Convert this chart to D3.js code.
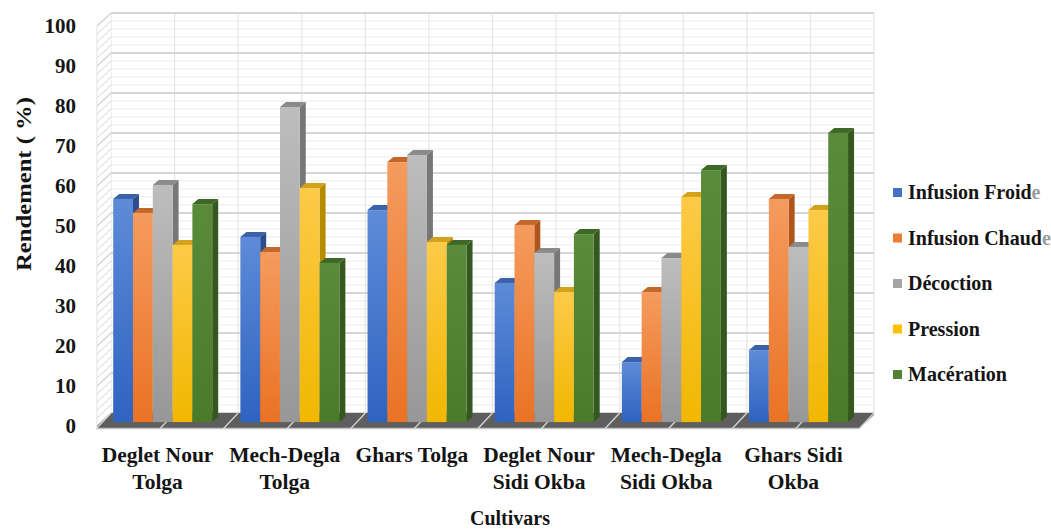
<!DOCTYPE html>
<html>
<head>
<meta charset="utf-8">
<script src="https://cdn.jsdelivr.net/npm/d3@7"></script>
<style>
  body { margin: 0; background: #fff; }
  svg { display: block; }
</style>
</head>
<body>
<div id="chart"></div>
<script>
// data
const categories = ["Deglet Nour Tolga", "Mech-Degla Tolga", "Ghars Tolga",
    "Deglet Nour Sidi Okba", "Mech-Degla Sidi Okba", "Ghars Sidi Okba"];
const categoryLines = [["Deglet Nour", "Tolga"], ["Mech-Degla", "Tolga"], ["Ghars Tolga"],
    ["Deglet Nour", "Sidi Okba"], ["Mech-Degla", "Sidi Okba"], ["Ghars Sidi", "Okba"]];
const seriesNames = ["Infusion Froide", "Infusion Chaude", "Décoction", "Pression", "Macération"];
const infusionFroide = [55.8, 46.3, 53.0, 34.8, 15.0, 18.0];
const infusionChaude = [52.3, 42.5, 65.0, 49.3, 32.5, 55.8];
const decoction      = [59.3, 78.8, 66.8, 42.3, 41.0, 43.8];
const pression       = [44.3, 58.5, 45.0, 32.5, 56.3, 53.0];
const maceration     = [54.5, 39.8, 44.3, 47.0, 63.0, 72.3];
const yTicks = [0, 10, 20, 30, 40, 50, 60, 70, 80, 90, 100];

const seriesValues = [infusionFroide, infusionChaude, decoction, pression, maceration];

// colours: legend, front gradient (top, bottom), side, top
const palette = [
    { key: "#4472C4", f0: "#5d8bd8", f1: "#2f63c0", side: "#2d4e8e", top: "#3b62a8" },
    { key: "#ED7D31", f0: "#f59b5e", f1: "#ea7224", side: "#b0541b", top: "#c4672b" },
    { key: "#A5A5A5", f0: "#bdbdbd", f1: "#979797", side: "#777777", top: "#8a8a8a" },
    { key: "#FFC000", f0: "#fdca48", f1: "#f1b700", side: "#b68a00", top: "#d2a21a" },
    { key: "#548235", f0: "#5a8b3a", f1: "#4a7b2b", side: "#35581f", top: "#3e6827" }
];

const FONT = "'Liberation Serif', 'DejaVu Serif', serif";
const width = 1051, height = 530;
const DX = 14, DY = -13;        // depth of the floor (front -> back wall)
const BDX = 6, BDY = -5;        // depth of one bar
const barDepth = 0.3;           // where the bars stand between front and back

const svg = d3.select("#chart").append("svg")
    .attr("width", width)
    .attr("height", height)
    .attr("font-family", FONT)
    .attr("font-weight", "bold");

const y = d3.scaleLinear().domain([0, 100]).range([426, 26]);
const x0 = d3.scaleBand().domain(categories).range([97, 860]);
const x1 = d3.scaleBand().domain(seriesNames).range([12, 111]);

const minor = d3.range(0, 101, 2);
const halfSteps = [];
categories.forEach(c => { halfSteps.push(x0(c)); halfSteps.push(x0(c) + x0.bandwidth() / 2); });
halfSteps.push(x0.range()[1]);

// back wall
const wall = svg.append("g");
wall.append("rect")
    .attr("x", x0.range()[0] + DX).attr("y", y(100) + DY)
    .attr("width", x0.range()[1] - x0.range()[0]).attr("height", y(0) - y(100))
    .attr("fill", "#fff");
wall.selectAll(".minor").data(minor.filter(v => v % 10 !== 0)).join("line")
    .attr("x1", x0.range()[0] + DX).attr("x2", x0.range()[1] + DX)
    .attr("y1", v => y(v) + DY).attr("y2", v => y(v) + DY)
    .attr("stroke", "#ebebeb").attr("stroke-width", 1.2);
wall.selectAll(".vert").data(halfSteps).join("line")
    .attr("x1", d => d + DX).attr("x2", d => d + DX)
    .attr("y1", y(100) + DY).attr("y2", y(0) + DY)
    .attr("stroke", "#e6e6e6").attr("stroke-width", 1.2);
wall.selectAll(".major").data(yTicks).join("line")
    .attr("x1", x0.range()[0] + DX).attr("x2", x0.range()[1] + DX)
    .attr("y1", v => y(v) + DY).attr("y2", v => y(v) + DY)
    .attr("stroke", "#d6d6d6").attr("stroke-width", 1.8);

// left side wall with its slanted grid
const side = svg.append("g");
const xl = x0.range()[0];
side.append("path")
    .attr("d", `M${xl},${y(100)}L${xl + DX},${y(100) + DY}L${xl + DX},${y(0) + DY}L${xl},${y(0)}Z`)
    .attr("fill", "#fff");
side.selectAll("line").data(minor).join("line")
    .attr("x1", xl).attr("y1", v => y(v))
    .attr("x2", xl + DX).attr("y2", v => y(v) + DY)
    .attr("stroke", v => v % 10 === 0 ? "#d6d6d6" : "#e4e4e4")
    .attr("stroke-width", v => v % 10 === 0 ? 1.6 : 1.1);
side.append("line")
    .attr("x1", xl).attr("x2", xl).attr("y1", y(100)).attr("y2", y(0))
    .attr("stroke", "#e2e2e2");

// floor
const xr = x0.range()[1];
svg.append("path")
    .attr("d", `M${xl},${y(0) + 2}L${xr},${y(0) + 2}L${xr + DX},${y(0) + DY + 2}L${xr + DX},${y(0) + DY}L${xl + DX},${y(0) + DY}L${xl},${y(0)}Z`)
    .attr("fill", "#5e5e5e");
svg.append("line")
    .attr("x1", xl).attr("x2", xr).attr("y1", y(0) + 2.5).attr("y2", y(0) + 2.5)
    .attr("stroke", "#c4c4c4").attr("stroke-width", 1.5);
svg.append("g").selectAll("line").data(halfSteps).join("line")
    .attr("x1", d => d - 1).attr("y1", y(0) + 3)
    .attr("x2", d => d + DX).attr("y2", y(0) + DY)
    .attr("stroke", "#d8d8d8").attr("stroke-width", 1.2);

// gradients for bar fronts
const defs = svg.append("defs");
palette.forEach((p, i) => {
    const g = defs.append("linearGradient").attr("id", "grad" + i)
        .attr("x1", 0).attr("y1", 0).attr("x2", 0).attr("y2", 1);
    g.append("stop").attr("offset", "0%").attr("stop-color", p.f0);
    g.append("stop").attr("offset", "100%").attr("stop-color", p.f1);
});

// bars
const bars = [];
categories.forEach((c, ci) => {
    seriesNames.forEach((s, si) => {
        bars.push({ c, s, si, v: seriesValues[si][ci] });
    });
});

const ox = DX * barDepth, oy = DY * barDepth;
const bw = x1.bandwidth();
const barG = svg.append("g").selectAll("g").data(bars).join("g");
barG.append("path")
    .attr("d", d => {
        const a = x0(d.c) + x1(d.s) + ox + bw, t = y(d.v) + oy, b = y(0) + oy;
        return `M${a},${t}L${a + BDX},${t + BDY}L${a + BDX},${b + BDY}L${a},${b}Z`;
    })
    .attr("fill", d => palette[d.si].side);
barG.append("path")
    .attr("d", d => {
        const a = x0(d.c) + x1(d.s) + ox, t = y(d.v) + oy;
        return `M${a},${t}L${a + BDX},${t + BDY}L${a + bw + BDX},${t + BDY}L${a + bw},${t}Z`;
    })
    .attr("fill", d => palette[d.si].top);
barG.append("rect")
    .attr("x", d => x0(d.c) + x1(d.s) + ox)
    .attr("y", d => y(d.v) + oy)
    .attr("width", bw)
    .attr("height", d => y(0) - y(d.v))
    .attr("fill", d => `url(#grad${d.si})`);

// y tick labels
svg.append("g").selectAll("text").data(yTicks).join("text")
    .attr("x", 76).attr("y", v => y(v) + 2)
    .attr("text-anchor", "end").attr("dominant-baseline", "middle")
    .attr("font-size", 21).attr("fill", "#141414")
    .text(v => v);

// category labels
const catText = svg.append("g").selectAll("text").data(categories).join("text")
    .attr("text-anchor", "middle")
    .attr("font-size", 21.5).attr("fill", "#141414");
catText.selectAll("tspan").data((c, i) => categoryLines[i].map(t => ({ t, c }))).join("tspan")
    .attr("x", d => x0(d.c) + x0.bandwidth() / 2 - 3)
    .attr("y", (d, i) => 462 + i * 27)
    .text(d => d.t);

// axis titles
svg.append("text")
    .attr("transform", "translate(31,184) rotate(-90)")
    .attr("text-anchor", "middle")
    .attr("textLength", 174).attr("lengthAdjust", "spacingAndGlyphs")
    .attr("font-size", 20).attr("fill", "#141414")
    .text("Rendement ( %)");
svg.append("text")
    .attr("x", 510).attr("y", 525)
    .attr("text-anchor", "middle")
    .attr("font-size", 20).attr("fill", "#141414")
    .text("Cultivars");

// legend
const legend = svg.append("g").selectAll("g").data(seriesNames).join("g")
    .attr("transform", (d, i) => `translate(893,${193 + i * 45.5})`);
legend.append("rect")
    .attr("x", 0).attr("y", -5).attr("width", 9).attr("height", 9)
    .attr("fill", (d, i) => palette[i].key);
const legText = legend.append("text")
    .attr("x", 15).attr("y", 1)
    .attr("dominant-baseline", "middle")
    .attr("font-size", 20).attr("fill", "#141414");
legText.append("tspan").text(d => d.startsWith("Infusion") ? d.slice(0, -1) : d);
legText.append("tspan").attr("fill", "#9a9a9a")
    .text(d => d.startsWith("Infusion") ? d.slice(-1) : "");
</script>
</body>
</html>
